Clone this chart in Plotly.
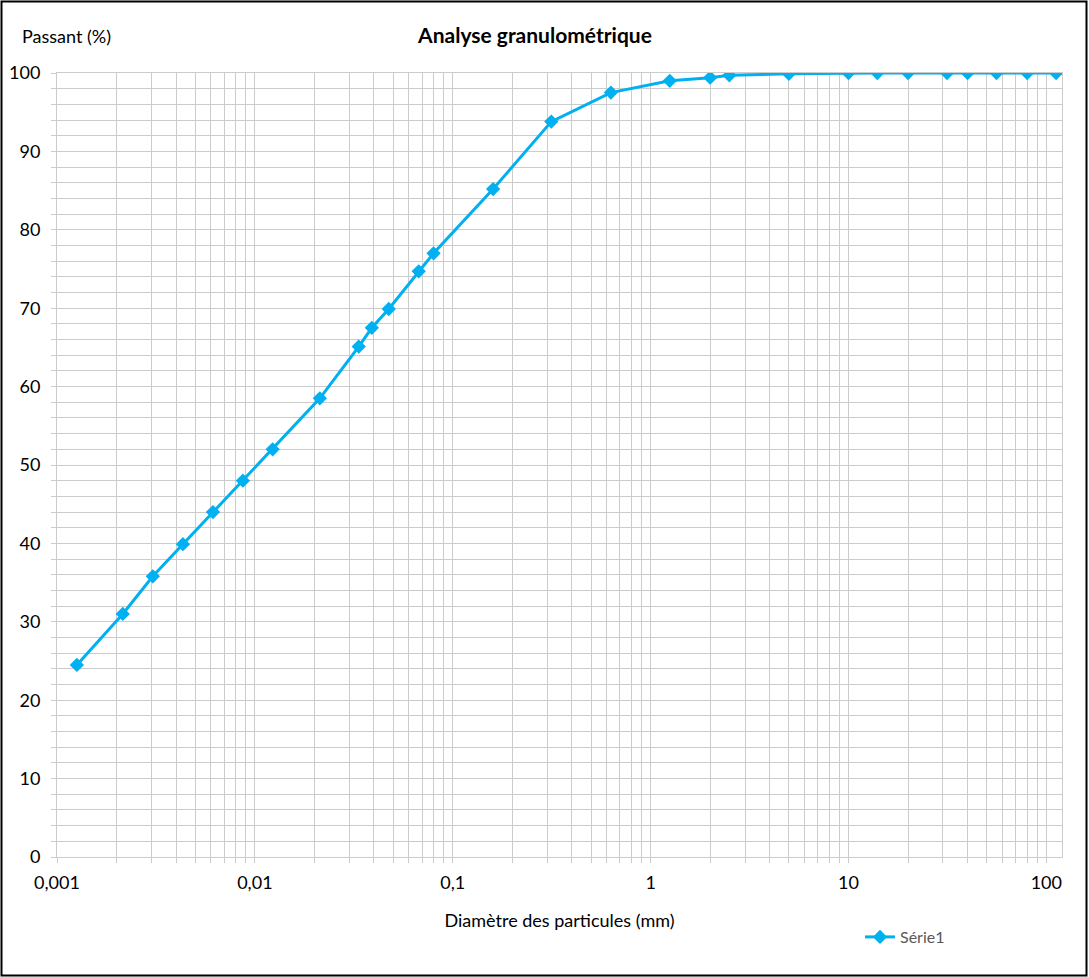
import plotly.graph_objects as go

diametre_mm = [0.00126, 0.00215, 0.00305, 0.00433, 0.00614, 0.0087, 0.0123, 0.0213,
               0.0335, 0.039, 0.0475, 0.0673, 0.08, 0.16, 0.315, 0.63, 1.25, 2.0,
               2.5, 5.0, 10.0, 14.0, 20.0, 31.5, 40.0, 56.0, 80.0, 112.0]
passant_pct = [24.5, 31.0, 35.8, 39.9, 44.0, 48.0, 52.0, 58.5,
               65.1, 67.5, 69.9, 74.7, 77.0, 85.2, 93.8, 97.5, 99.0, 99.4,
               99.7, 99.9, 100.0, 100.0, 100.0, 100.0, 100.0, 100.0, 100.0, 100.0]
x_tick_vals = [0.001, 0.01, 0.1, 1, 10, 100]
x_tick_text = ["0,001", "0,01", "0,1", "1", "10", "100"]
series_name = "Série1"

minor_vals = [m * 10 ** e for e in range(-3, 3) for m in range(2, 10) if m * 10 ** e < 120]

FONT = "Lato"
GRID = "#cccccc"
BLUE = "#00B0F0"

fig = go.Figure()
fig.add_trace(go.Scatter(
    x=diametre_mm, y=passant_pct, mode="lines+markers", name=series_name,
    line=dict(color=BLUE, width=3),
    marker=dict(symbol="diamond", size=11, color=BLUE),
))

W, H = 1089, 977
L, R, T, B = 57, 1062, 73, 857
pw, ph = R - L, B - T

fig.update_layout(
    width=W, height=H,
    margin=dict(l=L, r=W - R, t=T, b=H - B, autoexpand=False),
    paper_bgcolor="white", plot_bgcolor="white",
    font=dict(family=FONT, size=18, color="#000000"),
    title=dict(text="<b>Analyse granulométrique</b>", x=535 / W, xanchor="center",
               y=1 - 36 / H, yanchor="middle", font=dict(size=21, family=FONT)),
    showlegend=True,
    legend=dict(x=(860 - L) / pw, y=(B - 937) / ph, xanchor="left", yanchor="middle",
                font=dict(size=16, color="#595959", family=FONT),
                bgcolor="rgba(0,0,0,0)"),
    xaxis=dict(type="log", range=[-3, 2.0792], automargin=False,
               tickmode="array", tickvals=x_tick_vals, ticktext=x_tick_text,
               showgrid=True, gridcolor=GRID, gridwidth=1,
               ticks="outside", ticklen=5, tickcolor=GRID,
               showline=True, linecolor=GRID, mirror=True,
               tickfont=dict(size=18), zeroline=False, ticklabelstandoff=4,
               minor=dict(tickmode="array", tickvals=minor_vals, showgrid=True,
                          gridcolor=GRID, gridwidth=1, ticks="outside", ticklen=5,
                          tickcolor=GRID),
               title=dict(text="Diamètre des particules (mm)", font=dict(size=18), standoff=22)),
    yaxis=dict(range=[0, 100], dtick=10, tick0=0, automargin=False,
               showgrid=True, gridcolor=GRID, gridwidth=1,
               ticks="outside", ticklen=5, tickcolor=GRID,
               showline=True, linecolor=GRID, mirror=True,
               tickfont=dict(size=18), zeroline=False, ticklabelstandoff=7,
               minor=dict(dtick=2, showgrid=True, gridcolor=GRID, gridwidth=1,
                          ticks="outside", ticklen=5, tickcolor=GRID)),
)

fig.add_annotation(text="Passant (%)", xref="paper", yref="paper",
                   x=(20 - L) / pw, y=(B - 36) / ph, xanchor="left", yanchor="middle",
                   showarrow=False, font=dict(size=18, family=FONT))

fig.add_shape(type="rect", xref="paper", yref="paper",
              x0=(1.5 - L) / pw, x1=(1086.5 - L) / pw,
              y0=(B - 975.5) / ph, y1=(B - 1.5) / ph,
              line=dict(color="black", width=2), fillcolor="rgba(0,0,0,0)", layer="above")

fig.write_html("out.html", config={"displayModeBar": False},
               post_script="document.body.style.margin='0';document.body.style.padding='0';")
